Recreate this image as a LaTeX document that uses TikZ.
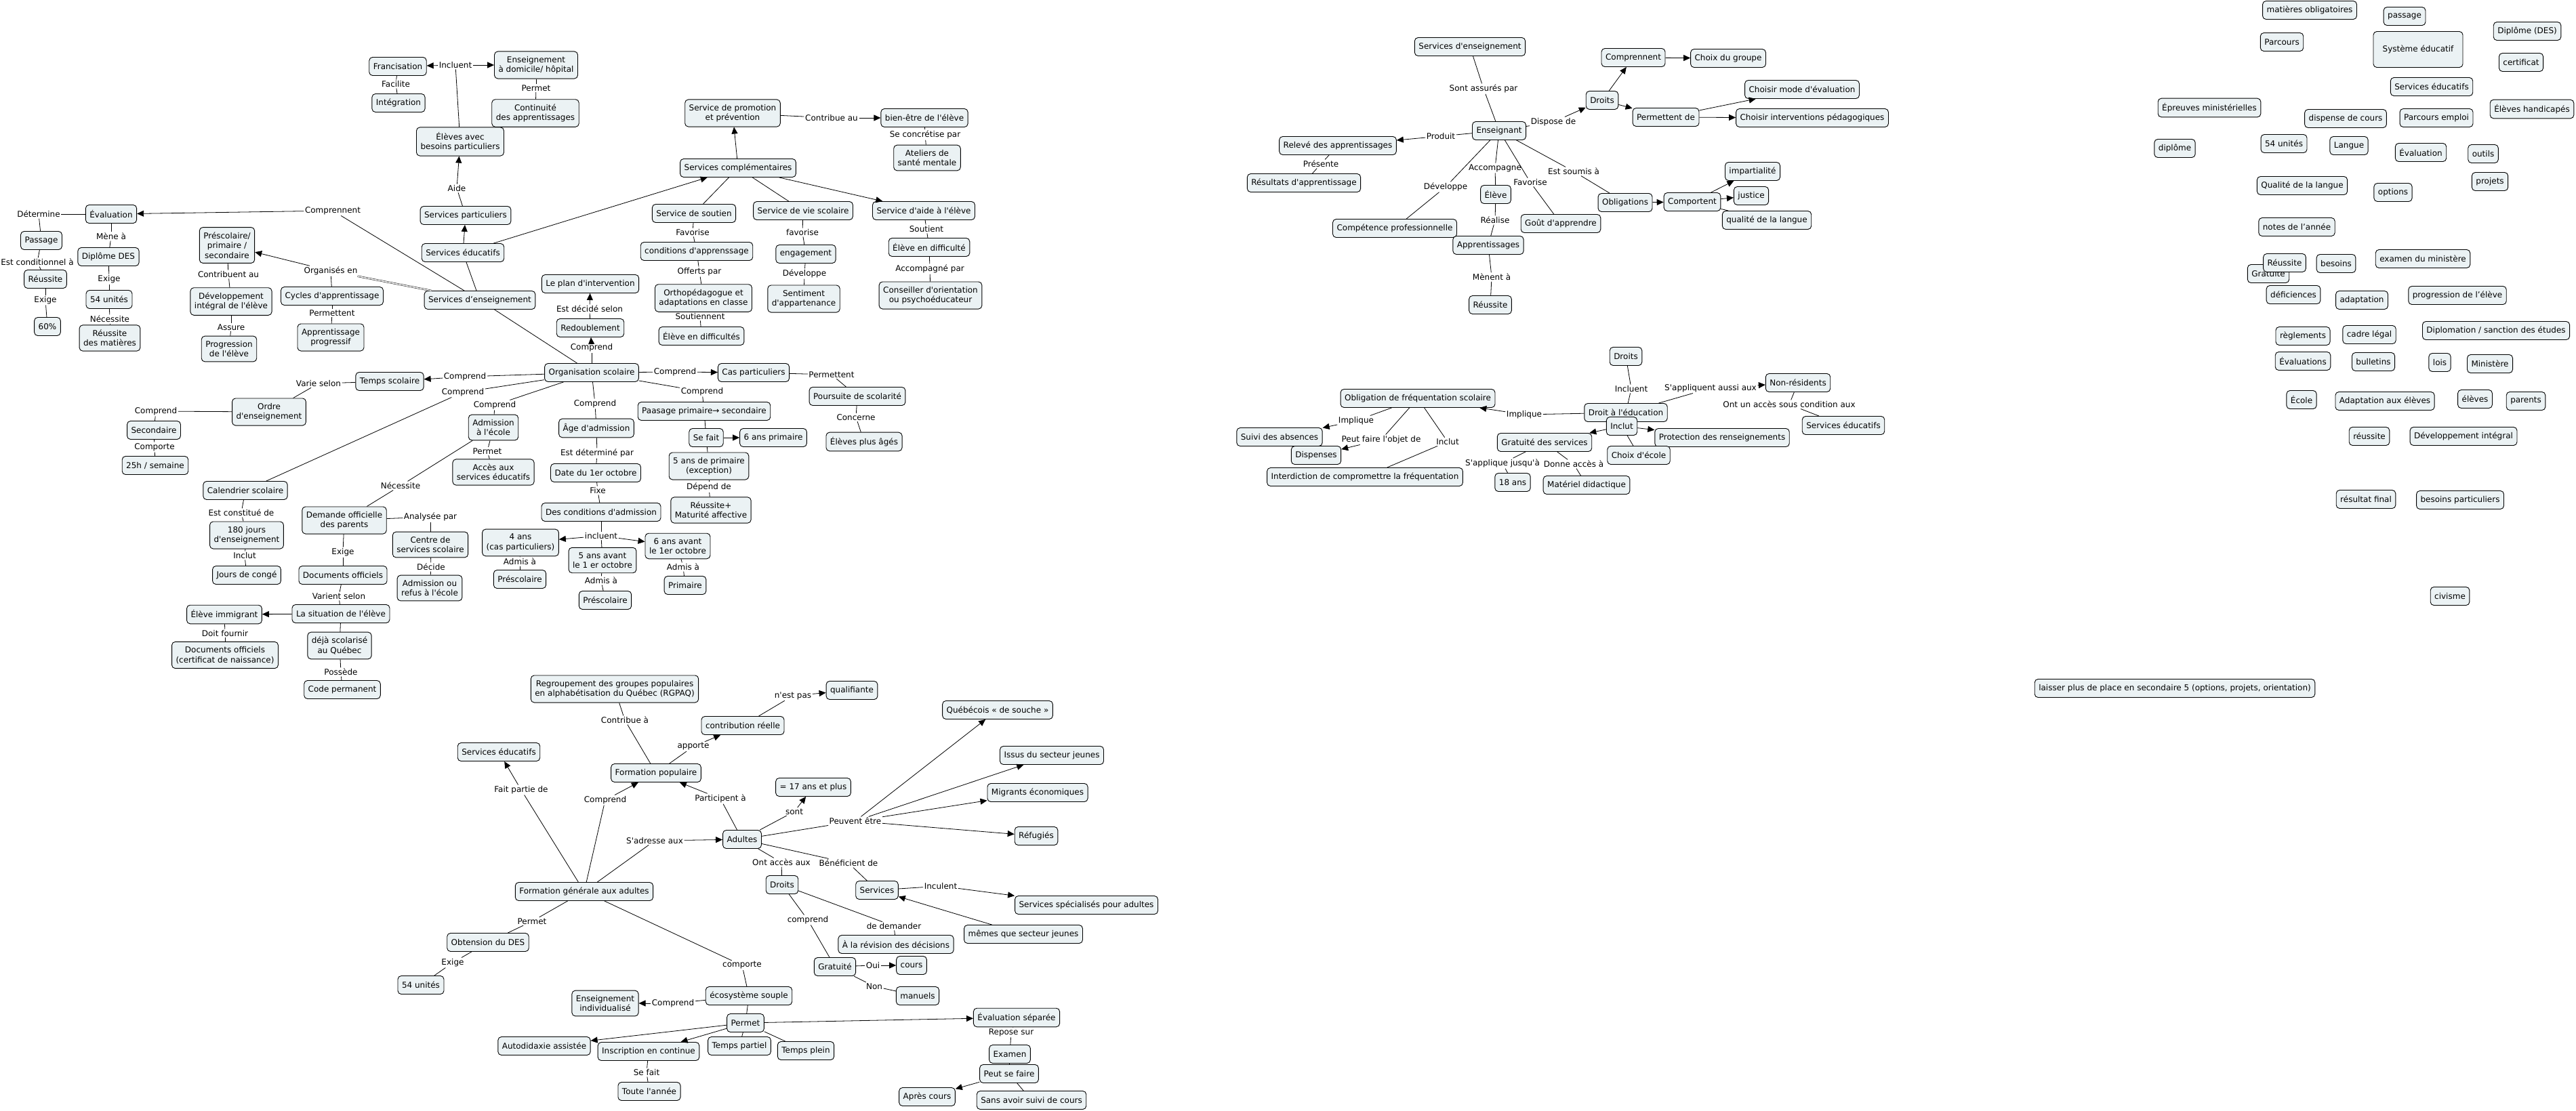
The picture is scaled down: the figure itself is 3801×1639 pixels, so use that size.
\documentclass[tikz,border=0pt]{standalone}
\usepackage{fontspec}
\setmainfont{DejaVu Sans}[Ligatures=TeXOff]
\usetikzlibrary{arrows.meta}
\definecolor{boxfill}{HTML}{EBF2F4}

\begin{document}
\begin{tikzpicture}[x=1pt, y=-1pt, font=\fontsize{12}{14.5}\selectfont,
  concept/.style={draw, line width=0.9pt, rounded corners=5pt, fill=boxfill, inner xsep=6pt, inner ysep=7pt, minimum height=27pt, align=center},
  lbl/.style={inner sep=1.5pt, align=center},
  link/.style={line width=0.8pt},
  arr/.style={-{Triangle[length=10pt, width=9pt]}}]
\useasboundingbox (0,0) rectangle (3801,1639);
\fill[white] (0,0) rectangle (3801,1639);

\node[concept] (franc) at (587,98) {Francisation};
\node[concept] (ensdom) at (791,96) {Enseignement\\à domicile/ hôpital};
\node[concept] (integ) at (588,152) {Intégration};
\node[concept] (contin) at (790,167) {Continuité\\des apprentissages};
\node[concept] (elbes) at (679,209) {Élèves avec\\besoins particuliers};
\node[concept] (servpart) at (687,318) {Services particuliers};
\node[concept] (serveduc) at (683,373) {Services éducatifs};
\node[concept] (servens) at (708,443) {Services d’enseignement};
\node[concept] (evalu) at (164,316) {Évaluation};
\node[concept] (passa) at (61,355) {Passage};
\node[concept] (reuss) at (67,412) {Réussite};
\node[concept] (soix) at (70,482) {60\%};
\node[concept] (dipdes) at (160,379) {Diplôme DES};
\node[concept] (unites) at (161,442) {54 unités};
\node[concept] (reumat) at (162,499) {Réussite\\des matières};
\node[concept] (prescol) at (335,362) {Préscolaire/\\primaire /\\secondaire};
\node[concept] (devint) at (341,445) {Développement\\intégral de l'élève};
\node[concept] (progel) at (338,515) {Progression\\de l'élève};
\node[concept] (cycles) at (490,437) {Cycles d'apprentissage};
\node[concept] (apprprog) at (488,498) {Apprentissage\\progressif};

\node[concept] (tempsco) at (575,563) {Temps scolaire};
\node[concept] (ordre) at (397,608) {Ordre\\d'enseignement};
\node[concept] (second) at (227,635) {Secondaire};
\node[concept] (vingtcinq) at (229,687) {25h / semaine};
\node[concept] (calend) at (362,724) {Calendrier scolaire};
\node[concept] (cent) at (364,790) {180 jours\\d'enseignement};
\node[concept] (conges) at (364,849) {Jours de congé};
\node[concept] (admis) at (728,631) {Admission\\à l'école};
\node[concept] (acces) at (728,697) {Accès aux\\services éducatifs};
\node[concept] (demande) at (508,768) {Demande officielle\\des parents};
\node[concept] (centre) at (635,804) {Centre de\\services scolaire};
\node[concept] (admref) at (634,868) {Admission ou\\refus à l'école};
\node[concept] (docoff) at (506,849) {Documents officiels};
\node[concept] (situ) at (503,906) {La situation de l'élève};
\node[concept] (immig) at (331,907) {Élève immigrant};
\node[concept] (docnais) at (332,967) {Documents officiels\\(certificat de naissance)};
\node[concept] (deja) at (501,953) {déjà scolarisé\\au Québec};
\node[concept] (codep) at (505,1018) {Code permanent};

\node[concept] (promo) at (1081,167) {Service de promotion\\et prévention};
\node[concept] (bienetre) at (1364,174) {bien-être de l'élève};
\node[concept] (ateliers) at (1368,233) {Ateliers de\\santé mentale};
\node[concept] (compl) at (1089,248) {Services complémentaires};
\node[concept] (soutien) at (1024,315) {Service de soutien};
\node[concept] (viesco) at (1185,311) {Service de vie scolaire};
\node[concept] (aide) at (1363,311) {Service d'aide à l'élève};
\node[concept] (condapp) at (1028,371) {conditions d'apprenssage};
\node[concept] (ortho) at (1038,440) {Orthopédagogue et\\adaptations en classe};
\node[concept] (eldiffs) at (1035,496) {Élève en difficultés};
\node[concept] (engag) at (1189,375) {engagement};
\node[concept] (sentim) at (1186,441) {Sentiment\\d'appartenance};
\node[concept] (eldiff) at (1371,365) {Élève en difficulté};
\node[concept] (conseil) at (1373,436) {Conseiller d'orientation\\ou psychoéducateur};
\node[concept] (plan) at (871,419) {Le plan d'intervention};
\node[concept] (redoub) at (871,484) {Redoublement};
\node[concept] (orgsco) at (873,550) {Organisation scolaire};

\node[concept] (caspart) at (1112,550) {Cas particuliers};
\node[concept] (poursuite) at (1265,585) {Poursuite de scolarité};
\node[concept] (agees) at (1275,652) {Élèves plus âgés};
\node[concept] (paasage) at (1039,607) {Paasage primaire→ secondaire};
\node[concept] (sefait) at (1042,646) {Se fait};
\node[concept] (sixprim) at (1141,646) {6 ans primaire};
\node[concept] (cinqprim) at (1046,688) {5 ans de primaire\\(exception)};
\node[concept] (maturite) at (1049,753) {Réussite+\\Maturité affective};
\node[concept] (agead) at (880,632) {Âge d'admission};
\node[concept] (dateoct) at (879,698) {Date du 1er octobre};
\node[concept] (condadm) at (887,756) {Des conditions d'admission};
\node[concept] (quatre) at (768,801) {4 ans\\(cas particuliers)};
\node[concept] (cinqans) at (889,827) {5 ans avant\\le 1 er octobre};
\node[concept] (sixans) at (1000,806) {6 ans avant\\le 1er octobre};
\node[concept] (presc1) at (767,855) {Préscolaire};
\node[concept] (presc2) at (893,886) {Préscolaire};
\node[concept] (primaire) at (1011,864) {Primaire};

\node[concept] (rgpaq) at (907,1017) {Regroupement des groupes populaires\\en alphabétisation du Québec (RGPAQ)};
\node[concept] (contrib) at (1096,1071) {contribution réelle};
\node[concept] (qualif) at (1257,1019) {qualifiante};
\node[concept] (formpop) at (968,1141) {Formation populaire};
\node[concept] (serveduc2) at (736,1110) {Services éducatifs};
\node[concept] (dixsept) at (1200,1162) {= 17 ans et plus};
\node[concept] (adultes) at (1095,1239) {Adultes};
\node[concept] (fga) at (862,1316) {Formation générale aux adultes};
\node[concept] (obtdes) at (720,1391) {Obtension du DES};
\node[concept] (unites2) at (621,1454) {54 unités};
\node[concept] (ecosys) at (1105,1470) {écosystème souple};
\node[concept] (ensind) at (893,1481) {Enseignement\\individualisé};
\node[concept] (autodid) at (803,1544) {Autodidaxie assistée};
\node[concept] (inscr) at (957,1552) {Inscription en continue};
\node[concept] (tpartiel) at (1091,1544) {Temps partiel};
\node[concept] (tplein) at (1189,1551) {Temps plein};
\node[concept] (permet) at (1100,1510) {Permet};
\node[concept] (toute) at (958,1611) {Toute l'année};
\node[concept] (droits1) at (1154,1306) {Droits};
\node[concept] (services) at (1294,1314) {Services};
\node[concept] (gratuite) at (1232,1427) {Gratuité};
\node[concept] (revision) at (1322,1394) {À la révision des décisions};
\node[concept] (cours) at (1345,1425) {cours};
\node[concept] (manuels) at (1354,1470) {manuels};
\node[concept] (quebec) at (1472,1048) {Québécois « de souche »};
\node[concept] (issus) at (1552,1115) {Issus du secteur jeunes};
\node[concept] (migrants) at (1531,1170) {Migrants économiques};
\node[concept] (refug) at (1529,1234) {Réfugiés};
\node[concept] (servspec) at (1603,1336) {Services spécialisés pour adultes};
\node[concept] (memes) at (1510,1379) {mêmes que secteur jeunes};
\node[concept] (evalsep) at (1500,1502) {Évaluation séparée};
\node[concept] (examen) at (1490,1556) {Examen};
\node[concept] (peutse) at (1489,1585) {Peut se faire};
\node[concept] (apres) at (1368,1619) {Après cours};
\node[concept] (sansavoir) at (1522,1624) {Sans avoir suivi de cours};

\node[concept] (servens2) at (2169,69) {Services d'enseignement};
\node[concept] (enseig) at (2212,193) {Enseignant};
\node[concept] (droits2) at (2364,148) {Droits};
\node[concept] (comprn) at (2410,85) {Comprennent};
\node[concept] (choixgr) at (2550,86) {Choix du groupe};
\node[concept] (permde) at (2458,173) {Permettent de};
\node[concept] (choixmode) at (2659,132) {Choisir mode d'évaluation};
\node[concept] (choixint) at (2674,174) {Choisir interventions pédagogiques};
\node[concept] (releve) at (1974,215) {Relevé des apprentissages};
\node[concept] (result) at (1924,270) {Résultats d'apprentissage};
\node[concept] (eleve) at (2207,287) {Élève};
\node[concept] (compet) at (2058,337) {Compétence professionnelle};
\node[concept] (apprent) at (2196,362) {Apprentissages};
\node[concept] (reuss2) at (2199,450) {Réussite};
\node[concept] (gout) at (2303,330) {Goût d'apprendre};
\node[concept] (oblig) at (2398,299) {Obligations};
\node[concept] (comport) at (2497,298) {Comportent};
\node[concept] (impart) at (2586,253) {impartialité};
\node[concept] (justice) at (2584,289) {justice};
\node[concept] (qualang) at (2607,325) {qualité de la langue};

\node[concept] (droits3) at (2399,526) {Droits};
\node[concept] (droitedu) at (2399,609) {Droit à l'éducation};
\node[concept] (nonres) at (2653,565) {Non-résidents};
\node[concept] (serveduc3) at (2720,628) {Services éducatifs};
\node[concept] (obligfreq) at (2092,588) {Obligation de fréquentation scolaire};
\node[concept] (suivi) at (1888,645) {Suivi des absences};
\node[concept] (dispenses) at (1942,672) {Dispenses};
\node[concept] (interdic) at (2014,704) {Interdiction de compromettre la fréquentation};
\node[concept] (inclutbox) at (2393,629) {Inclut};
\node[concept] (gratserv) at (2279,653) {Gratuité des services};
\node[concept] (protec) at (2541,646) {Protection des renseignements};
\node[concept] (choixec) at (2418,672) {Choix d'école};
\node[concept] (dixhuit) at (2232,712) {18 ans};
\node[concept] (materiel) at (2341,716) {Matériel didactique};

\node[concept] (matob) at (3408,15) {matières obligatoires};
\node[concept] (passag) at (3548,24) {passage};
\node[concept] (dipdes2) at (3729,46) {Diplôme (DES)};
\node[concept] (parcours) at (3367,62) {Parcours};
\node[concept, minimum width=132pt, minimum height=53pt] (systeme) at (3568,73) {Système éducatif};
\node[concept] (certif) at (3720,92) {certificat};
\node[concept] (serveduc4) at (3588,128) {Services éducatifs};
\node[concept] (epreuves) at (3260,159) {Épreuves ministérielles};
\node[concept] (dispcours) at (3461,175) {dispense de cours};
\node[concept] (parcemp) at (3595,174) {Parcours emploi};
\node[concept] (handic) at (3736,161) {Élèves handicapés};
\node[concept] (diplome) at (3209,219) {diplôme};
\node[concept] (unites3) at (3370,212) {54 unités};
\node[concept] (langue) at (3466,215) {Langue};
\node[concept] (evalu2) at (3572,225) {Évaluation};
\node[concept] (outils) at (3664,227) {outils};
\node[concept] (projets) at (3674,268) {projets};
\node[concept] (qualang2) at (3397,274) {Qualité de la langue};
\node[concept] (options) at (3531,284) {options};
\node[concept] (notes) at (3389,335) {notes de l’année};
\node[concept] (gratuite2) at (3347,404) {Gratuité};
\node[concept] (reuss3) at (3371,388) {Réussite};
\node[concept] (besoins) at (3447,389) {besoins};
\node[concept] (examin) at (3575,382) {examen du ministère};
\node[concept] (deficien) at (3384,435) {déficiences};
\node[concept] (adapt) at (3485,443) {adaptation};
\node[concept] (progel2) at (3626,436) {progression de l’élève};
\node[concept] (reglem) at (3398,496) {règlements};
\node[concept] (cadre) at (3496,494) {cadre légal};
\node[concept] (diplomat) at (3683,488) {Diplomation / sanction des études};
\node[concept] (evals) at (3398,533) {Évaluations};
\node[concept] (bulletins) at (3502,534) {bulletins};
\node[concept] (lois) at (3600,535) {lois};
\node[concept] (minist) at (3674,537) {Ministère};
\node[concept] (ecole) at (3396,590) {École};
\node[concept] (adaptel) at (3519,592) {Adaptation aux élèves};
\node[concept] (eleves) at (3652,589) {élèves};
\node[concept] (parents) at (3727,592) {parents};
\node[concept] (reuss4) at (3496,644) {réussite};
\node[concept] (devint2) at (3635,644) {Développement intégral};
\node[concept] (resfin) at (3491,737) {résultat final};
\node[concept] (besoinsp) at (3630,738) {besoins particuliers};
\node[concept] (civisme) at (3615,880) {civisme};
\node[concept] (laisser) at (3209,1016) {laisser plus de place en secondaire 5 (options, projets, orientation)};

\node[lbl] (l_incl) at (672,96) {Incluent};
\node[lbl] (l_facil) at (584,124) {Facilite};
\node[lbl] (l_perm1) at (791,130) {Permet};
\node[lbl] (l_aide) at (674,278) {Aide};
\node[lbl] (l_compr1) at (491,311) {Comprennent};
\node[lbl] (l_determ) at (57,316) {Détermine};
\node[lbl] (l_mene) at (164,349) {Mène à};
\node[lbl] (l_condit) at (55,387) {Est conditionnel à};
\node[lbl] (l_exige1) at (67,443) {Exige};
\node[lbl] (l_exige2) at (161,412) {Exige};
\node[lbl] (l_necess1) at (162,471) {Nécessite};
\node[lbl] (l_contrib) at (337,405) {Contribuent au};
\node[lbl] (l_assure) at (341,483) {Assure};
\node[lbl] (l_organ) at (488,400) {Organisés en};
\node[lbl] (l_permt1) at (490,462) {Permettent};
\node[lbl] (l_compr2) at (686,556) {Comprend};
\node[lbl] (l_compr3) at (683,579) {Comprend};
\node[lbl] (l_varie) at (470,566) {Varie selon};
\node[lbl] (l_compr4) at (230,607) {Comprend};
\node[lbl] (l_comporte) at (228,660) {Comporte};
\node[lbl] (l_constit) at (356,757) {Est constitué de};
\node[lbl] (l_inclut1) at (361,820) {Inclut};
\node[lbl] (l_compr5) at (730,598) {Comprend};
\node[lbl] (l_perm2) at (719,666) {Permet};
\node[lbl] (l_necess2) at (591,717) {Nécessite};
\node[lbl] (l_analys) at (635,763) {Analysée par};
\node[lbl] (l_decide) at (636,837) {Décide};
\node[lbl] (l_exige3) at (506,815) {Exige};
\node[lbl] (l_varient) at (500,880) {Varient selon};
\node[lbl] (l_doitf) at (332,935) {Doit fournir};
\node[lbl] (l_possede) at (503,992) {Possède};
\node[lbl] (l_contribue) at (1227,174) {Contribue au};
\node[lbl] (l_concret) at (1365,199) {Se concrétise par};
\node[lbl] (l_favor1) at (1022,343) {Favorise};
\node[lbl] (l_offerts) at (1032,401) {Offerts par};
\node[lbl] (l_soutnt) at (1033,467) {Soutiennent};
\node[lbl] (l_favor2) at (1184,343) {favorise};
\node[lbl] (l_develop1) at (1187,404) {Développe};
\node[lbl] (l_soutient) at (1367,338) {Soutient};
\node[lbl] (l_accomp) at (1372,397) {Accompagné par};
\node[lbl] (l_decid) at (870,456) {Est décidé selon};
\node[lbl] (l_compr6) at (873,513) {Comprend};
\node[lbl] (l_compr7) at (996,549) {Comprend};
\node[lbl] (l_permt2) at (1227,553) {Permettent};
\node[lbl] (l_concerne) at (1263,616) {Concerne};
\node[lbl] (l_compr8) at (1036,578) {Comprend};
\node[lbl] (l_depend) at (1046,719) {Dépend de};
\node[lbl] (l_compr9) at (878,596) {Comprend};
\node[lbl] (l_determ2) at (881,669) {Est déterminé par};
\node[lbl] (l_fixe) at (882,724) {Fixe};
\node[lbl] (l_incluent2) at (887,791) {incluent};
\node[lbl] (l_admis1) at (767,829) {Admis à};
\node[lbl] (l_admis2) at (887,857) {Admis à};
\node[lbl] (l_admis3) at (1008,837) {Admis à};
\node[lbl] (l_contribua) at (922,1063) {Contribue à};
\node[lbl] (l_nestpas) at (1170,1027) {n'est pas};
\node[lbl] (l_apporte) at (1023,1102) {apporte};
\node[lbl] (l_fait) at (769,1166) {Fait partie de};
\node[lbl] (l_compr10) at (893,1181) {Comprend};
\node[lbl] (l_particip) at (1063,1179) {Participent à};
\node[lbl] (l_sont) at (1172,1198) {sont};
\node[lbl] (l_adresse) at (966,1241) {S'adresse aux};
\node[lbl] (l_perm3) at (785,1360) {Permet};
\node[lbl] (l_exige4) at (668,1421) {Exige};
\node[lbl] (l_comporte2) at (1095,1425) {comporte};
\node[lbl] (l_compr11) at (993,1481) {Comprend};
\node[lbl] (l_sefait2) at (954,1583) {Se fait};
\node[lbl] (l_ontacc) at (1153,1273) {Ont accès aux};
\node[lbl] (l_benef) at (1252,1274) {Bénéficient de};
\node[lbl] (l_compr12) at (1192,1358) {comprend};
\node[lbl] (l_demander) at (1319,1367) {de demander};
\node[lbl] (l_oui) at (1288,1425) {Oui};
\node[lbl] (l_non) at (1290,1456) {Non};
\node[lbl] (l_peuvent) at (1262,1212) {Peuvent être};
\node[lbl] (l_inculent) at (1388,1308) {Inculent};
\node[lbl] (l_repose) at (1492,1524) {Repose sur};
\node[lbl] (l_assures) at (2189,131) {Sont assurés par};
\node[lbl] (l_dispose) at (2292,180) {Dispose de};
\node[lbl] (l_produit) at (2126,201) {Produit};
\node[lbl] (l_presente) at (1949,242) {Présente};
\node[lbl] (l_accompa) at (2206,248) {Accompagne};
\node[lbl] (l_realise) at (2206,325) {Réalise};
\node[lbl] (l_menent) at (2201,409) {Mènent à};
\node[lbl] (l_develop2) at (2133,276) {Développe};
\node[lbl] (l_favor3) at (2258,269) {Favorise};
\node[lbl] (l_soumis) at (2322,253) {Est soumis à};
\node[lbl] (l_incluent3) at (2407,574) {Incluent};
\node[lbl] (l_appliq) at (2524,573) {S'appliquent aussi aux};
\node[lbl] (l_accescond) at (2640,597) {Ont un accès sous condition aux};
\node[lbl] (l_impl1) at (2249,612) {Implique};
\node[lbl] (l_impl2) at (2001,621) {Implique};
\node[lbl] (l_peutfaire) at (2038,649) {Peut faire l'objet de};
\node[lbl] (l_inclut2) at (2136,652) {Inclut};
\node[lbl] (l_jusqua) at (2217,684) {S'applique jusqu'à};
\node[lbl] (l_donne) at (2322,685) {Donne accès à};

\draw[link] (elbes) -- (l_incl);
\draw[link,arr] (l_incl) -- (franc);
\draw[link,arr] (l_incl) -- (ensdom);
\draw[link] (franc) -- (l_facil);
\draw[link] (l_facil) -- (integ);
\draw[link] (ensdom) -- (l_perm1);
\draw[link] (l_perm1) -- (contin);
\draw[link] (servpart) -- (l_aide);
\draw[link,arr] (l_aide) -- (elbes);
\draw[link,arr] (serveduc) -- (servpart);
\draw[link,arr] (serveduc) -- (compl);
\draw[link] (servens) -- (serveduc);
\draw[link] (servens) -- (l_compr1);
\draw[link,arr] (l_compr1) -- (evalu);
\draw[link] (evalu) -- (l_determ);
\draw[link] (l_determ) -- (passa);
\draw[link] (passa) -- (l_condit);
\draw[link] (l_condit) -- (reuss);
\draw[link] (reuss) -- (l_exige1);
\draw[link] (l_exige1) -- (soix);
\draw[link] (evalu) -- (l_mene);
\draw[link] (l_mene) -- (dipdes);
\draw[link] (dipdes) -- (l_exige2);
\draw[link] (l_exige2) -- (unites);
\draw[link] (unites) -- (l_necess1);
\draw[link] (l_necess1) -- (reumat);
\draw[line width=0.5pt, double, double distance=1.4pt] (servens) -- (l_organ);
\draw[link,arr] (l_organ) -- (prescol);
\draw[link] (l_organ) -- (cycles);
\draw[link] (prescol) -- (l_contrib);
\draw[link] (l_contrib) -- (devint);
\draw[link] (devint) -- (l_assure);
\draw[link] (l_assure) -- (progel);
\draw[link] (cycles) -- (l_permt1);
\draw[link] (l_permt1) -- (apprprog);
\draw[link] (servens) -- (orgsco);

\draw[link] (orgsco) -- (l_compr6);
\draw[link,arr] (l_compr6) -- (redoub);
\draw[link] (redoub) -- (l_decid);
\draw[link,arr] (l_decid) -- (plan);
\draw[link] (orgsco) -- (l_compr2);
\draw[link,arr] (l_compr2) -- (tempsco);
\draw[link] (orgsco) -- (l_compr3);
\draw[link] (l_compr3) -- (calend);
\draw[link] (orgsco) -- (l_compr5);
\draw[link] (l_compr5) -- (admis);
\draw[link] (orgsco) -- (l_compr9);
\draw[link] (l_compr9) -- (agead);
\draw[link] (orgsco) -- (l_compr8);
\draw[link] (l_compr8) -- (paasage);
\draw[link] (orgsco) -- (l_compr7);
\draw[link,arr] (l_compr7) -- (caspart);
\draw[link] (tempsco) -- (l_varie);
\draw[link] (l_varie) -- (ordre);
\draw[link] (ordre) -- (l_compr4);
\draw[link] (l_compr4) -- (second);
\draw[link] (second) -- (l_comporte);
\draw[link] (l_comporte) -- (vingtcinq);
\draw[link] (calend) -- (l_constit);
\draw[link] (l_constit) -- (cent);
\draw[link] (cent) -- (l_inclut1);
\draw[link] (l_inclut1) -- (conges);
\draw[link] (admis) -- (l_perm2);
\draw[link] (l_perm2) -- (acces);
\draw[link] (admis) -- (l_necess2);
\draw[link] (l_necess2) -- (demande);
\draw[link] (demande) -- (l_analys);
\draw[link] (l_analys) -- (centre);
\draw[link] (centre) -- (l_decide);
\draw[link] (l_decide) -- (admref);
\draw[link] (demande) -- (l_exige3);
\draw[link] (l_exige3) -- (docoff);
\draw[link] (docoff) -- (l_varient);
\draw[link] (l_varient) -- (situ);
\draw[link,arr] (situ) -- (immig);
\draw[link] (situ) -- (deja);
\draw[link] (immig) -- (l_doitf);
\draw[link] (l_doitf) -- (docnais);
\draw[link] (deja) -- (l_possede);
\draw[link] (l_possede) -- (codep);
\draw[link] (caspart) -- (l_permt2);
\draw[link] (l_permt2) -- (poursuite);
\draw[link] (poursuite) -- (l_concerne);
\draw[link] (l_concerne) -- (agees);
\draw[link] (paasage) -- (sefait);
\draw[link,arr] (sefait) -- (sixprim);
\draw[link] (sefait) -- (cinqprim);
\draw[link] (cinqprim) -- (l_depend);
\draw[link] (l_depend) -- (maturite);
\draw[link] (agead) -- (l_determ2);
\draw[link] (l_determ2) -- (dateoct);
\draw[link] (dateoct) -- (l_fixe);
\draw[link] (l_fixe) -- (condadm);
\draw[link] (condadm) -- (l_incluent2);
\draw[link,arr] (l_incluent2) -- (quatre);
\draw[link,arr] (l_incluent2) -- (sixans);
\draw[link] (l_incluent2) -- (cinqans);
\draw[link] (quatre) -- (l_admis1);
\draw[link] (l_admis1) -- (presc1);
\draw[link] (cinqans) -- (l_admis2);
\draw[link] (l_admis2) -- (presc2);
\draw[link] (sixans) -- (l_admis3);
\draw[link] (l_admis3) -- (primaire);

\draw[link,arr] (compl) -- (promo);
\draw[link] (compl) -- (soutien);
\draw[link] (compl) -- (viesco);
\draw[link,arr] (compl) -- (aide);
\draw[link] (promo) -- (l_contribue);
\draw[link,arr] (l_contribue) -- (bienetre);
\draw[link] (bienetre) -- (l_concret);
\draw[link] (l_concret) -- (ateliers);
\draw[link] (soutien) -- (l_favor1);
\draw[link] (l_favor1) -- (condapp);
\draw[link] (condapp) -- (l_offerts);
\draw[link] (l_offerts) -- (ortho);
\draw[link] (ortho) -- (l_soutnt);
\draw[link] (l_soutnt) -- (eldiffs);
\draw[link] (viesco) -- (l_favor2);
\draw[link] (l_favor2) -- (engag);
\draw[link] (engag) -- (l_develop1);
\draw[link] (l_develop1) -- (sentim);
\draw[link] (aide) -- (l_soutient);
\draw[link] (l_soutient) -- (eldiff);
\draw[link] (eldiff) -- (l_accomp);
\draw[link] (l_accomp) -- (conseil);

\draw[link] (rgpaq) -- (l_contribua);
\draw[link] (l_contribua) -- (formpop);
\draw[link] (formpop) -- (l_apporte);
\draw[link,arr] (l_apporte) -- (contrib);
\draw[link] (contrib) -- (l_nestpas);
\draw[link,arr] (l_nestpas) -- (qualif);
\draw[link] (fga) -- (l_fait);
\draw[link,arr] (l_fait) -- (serveduc2);
\draw[link] (fga) -- (l_compr10);
\draw[link,arr] (l_compr10) -- (formpop);
\draw[link] (adultes) -- (l_particip);
\draw[link,arr] (l_particip) -- (formpop);
\draw[link] (adultes) -- (l_sont);
\draw[link,arr] (l_sont) -- (dixsept);
\draw[link] (fga) -- (l_adresse);
\draw[link,arr] (l_adresse) -- (adultes);
\draw[link] (adultes) -- (l_peuvent);
\draw[link,arr] (l_peuvent) -- (quebec);
\draw[link,arr] (l_peuvent) -- (issus);
\draw[link,arr] (l_peuvent) -- (migrants);
\draw[link,arr] (l_peuvent) -- (refug);
\draw[link] (adultes) -- (l_ontacc);
\draw[link] (l_ontacc) -- (droits1);
\draw[link] (adultes) -- (l_benef);
\draw[link] (l_benef) -- (services);
\draw[link] (services) -- (l_inculent);
\draw[link,arr] (l_inculent) -- (servspec);
\draw[link,arr] (memes) -- (services);
\draw[link] (droits1) -- (l_compr12);
\draw[link] (l_compr12) -- (gratuite);
\draw[link] (droits1) -- (l_demander);
\draw[link] (l_demander) -- (revision);
\draw[link] (gratuite) -- (l_oui);
\draw[link,arr] (l_oui) -- (cours);
\draw[link] (gratuite) -- (l_non);
\draw[link] (l_non) -- (manuels);
\draw[link] (fga) -- (l_perm3);
\draw[link] (l_perm3) -- (obtdes);
\draw[link] (obtdes) -- (l_exige4);
\draw[link] (l_exige4) -- (unites2);
\draw[link] (fga) -- (l_comporte2);
\draw[link] (l_comporte2) -- (ecosys);
\draw[link] (ecosys) -- (l_compr11);
\draw[link,arr] (l_compr11) -- (ensind);
\draw[link] (ecosys) -- (permet);
\draw[link,arr] (permet) -- (autodid);
\draw[link,arr] (permet) -- (inscr);
\draw[link] (permet) -- (tpartiel);
\draw[link] (permet) -- (tplein);
\draw[link,arr] (permet) -- (evalsep);
\draw[link] (inscr) -- (l_sefait2);
\draw[link] (l_sefait2) -- (toute);
\draw[link] (evalsep) -- (l_repose);
\draw[link] (l_repose) -- (examen);
\draw[link] (examen) -- (peutse);
\draw[link,arr] (peutse) -- (apres);
\draw[link] (peutse) -- (sansavoir);

\draw[link] (servens2) -- (l_assures);
\draw[link] (l_assures) -- (enseig);
\draw[link] (enseig) -- (l_dispose);
\draw[link,arr] (l_dispose) -- (droits2);
\draw[link,arr] (droits2) -- (comprn);
\draw[link,arr] (comprn) -- (choixgr);
\draw[link,arr] (droits2) -- (permde);
\draw[link,arr] (permde) -- (choixmode);
\draw[link,arr] (permde) -- (choixint);
\draw[link] (enseig) -- (l_produit);
\draw[link,arr] (l_produit) -- (releve);
\draw[link] (releve) -- (l_presente);
\draw[link] (l_presente) -- (result);
\draw[link] (enseig) -- (l_accompa);
\draw[link] (l_accompa) -- (eleve);
\draw[link] (eleve) -- (l_realise);
\draw[link] (l_realise) -- (apprent);
\draw[link] (apprent) -- (l_menent);
\draw[link] (l_menent) -- (reuss2);
\draw[link] (enseig) -- (l_develop2);
\draw[link] (l_develop2) -- (compet);
\draw[link] (enseig) -- (l_favor3);
\draw[link] (l_favor3) -- (gout);
\draw[link] (enseig) -- (l_soumis);
\draw[link] (l_soumis) -- (oblig);
\draw[link,arr] (oblig) -- (comport);
\draw[link,arr] (comport) -- (impart);
\draw[link,arr] (comport) -- (justice);
\draw[link] (comport) -- (qualang);

\draw[link] (droits3) -- (l_incluent3);
\draw[link] (l_incluent3) -- (droitedu);
\draw[link] (droitedu) -- (l_appliq);
\draw[link,arr] (l_appliq) -- (nonres);
\draw[link] (nonres) -- (l_accescond);
\draw[link] (l_accescond) -- (serveduc3);
\draw[link] (droitedu) -- (l_impl1);
\draw[link,arr] (l_impl1) -- (obligfreq);
\draw[link] (obligfreq) -- (l_impl2);
\draw[link,arr] (l_impl2) -- (suivi);
\draw[link] (obligfreq) -- (l_peutfaire);
\draw[link,arr] (l_peutfaire) -- (dispenses);
\draw[link] (obligfreq) -- (l_inclut2);
\draw[link] (l_inclut2) -- (interdic);
\draw[link,arr] (inclutbox) -- (gratserv);
\draw[link,arr] (inclutbox) -- (protec);
\draw[link] (inclutbox) -- (choixec);
\draw[link] (gratserv) -- (l_jusqua);
\draw[link] (l_jusqua) -- (dixhuit);
\draw[link] (gratserv) -- (l_donne);
\draw[link] (l_donne) -- (materiel);
\end{tikzpicture}
\end{document}
